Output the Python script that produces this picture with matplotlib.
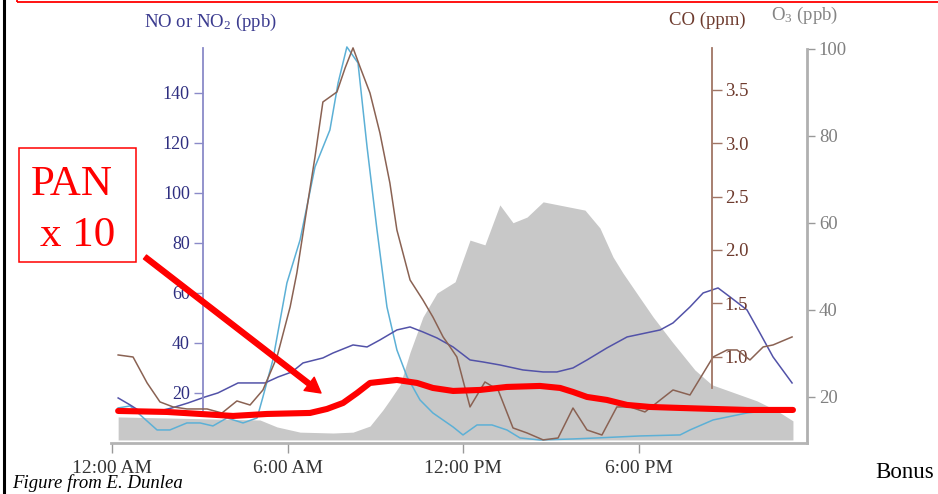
import matplotlib
matplotlib.use("Agg")
import matplotlib.pyplot as plt
from matplotlib.patches import Rectangle, FancyArrowPatch
from matplotlib.lines import Line2D

plt.rcParams['font.family'] = ['Liberation Serif', 'DejaVu Serif']
plt.rcParams['mathtext.fontset'] = 'custom'
plt.rcParams['mathtext.rm'] = 'Liberation Serif'
plt.rcParams['mathtext.it'] = 'Liberation Serif:italic'

# ---------------- data (hours after midnight) ----------------
no_hours = [0.21, 0.62, 1.54, 1.98, 2.56, 3.01, 3.45, 3.93, 4.48, 4.96, 5.16, 5.50,
            5.98, 6.43, 6.94, 7.45, 7.73, 8.03, 8.41, 8.72, 9.06, 9.40, 9.74, 10.09,
            10.53, 10.97, 11.66, 12.0, 12.48, 12.99, 13.50, 13.95, 14.63, 15.76,
            16.58, 18.05, 19.42, 19.76, 20.55, 21.71, 23.28]
no_ppb = [13.9, 14.7, 5.1, 5.1, 7.9, 7.9, 6.7, 9.9, 7.9, 9.9, 18.3, 33.1,
          63.9, 81.1, 110.3, 125.1, 143.9, 158.3, 151.9, 118.3, 85.1, 54.3, 37.1, 26.3,
          17.1, 11.9, 6.3, 3.1, 7.1, 7.1, 5.1, 1.9, 1.1, 1.5,
          1.9, 2.7, 3.1, 5.1, 9.1, 11.9, 13.9]

no2_hours = [0.21, 0.62, 0.89, 1.47, 2.05, 2.60, 3.18, 3.62, 4.31, 5.23, 5.68, 6.15,
             6.53, 7.21, 7.56, 8.24, 8.72, 9.16, 9.74, 10.19, 10.63, 11.11, 11.66,
             12.24, 12.68, 13.26, 14.05, 14.74, 15.21, 15.76, 16.24, 16.92, 17.61,
             18.74, 19.18, 19.76, 20.21, 20.72, 21.13, 21.71, 22.15, 22.60, 23.25]
no2_ppb = [17.9, 15.1, 13.1, 12.3, 13.9, 15.9, 18.3, 19.9, 23.9, 23.9, 26.3, 28.3,
           31.9, 33.9, 35.9, 39.1, 38.3, 41.1, 45.1, 46.3, 44.3, 41.9, 38.3,
           33.1, 32.3, 31.1, 29.1, 28.3, 28.3, 29.9, 33.1, 37.9, 42.3,
           45.1, 47.9, 54.3, 59.9, 61.9, 58.3, 53.1, 43.9, 34.3, 23.9]

co_hours = [0.21, 0.72, 1.20, 1.64, 2.09, 2.56, 3.25, 3.76, 4.27, 4.72, 5.16, 5.64,
            6.09, 6.32, 6.67, 6.94, 7.21, 7.69, 7.97, 8.24, 8.48, 8.82, 9.16, 9.50,
            9.74, 10.19, 10.63, 10.97, 11.32, 11.56, 11.79, 12.24, 12.75, 13.20,
            13.71, 14.19, 14.74, 15.25, 15.76, 16.24, 16.75, 17.26, 17.71, 18.22,
            19.18, 19.76, 20.55, 21.03, 21.37, 21.81, 22.26, 22.60, 23.25]
co_ppm = [1.015, 0.996, 0.753, 0.575, 0.528, 0.509, 0.509, 0.471, 0.584, 0.546, 0.687, 0.996,
          1.465, 1.784, 2.402, 2.871, 3.386, 3.480, 3.705, 3.893, 3.714, 3.470, 3.095, 2.627,
          2.186, 1.718, 1.530, 1.371, 1.184, 1.090, 0.996, 0.528, 0.762, 0.687,
          0.331, 0.284, 0.219, 0.237, 0.518, 0.312, 0.265, 0.528, 0.528, 0.481,
          0.687, 0.640, 0.996, 1.062, 1.062, 0.968, 1.090, 1.109, 1.184]

o3_hours = [0.21, 5.06, 5.64, 6.43, 7.56, 8.24, 8.82, 9.26, 9.50, 9.85, 10.19, 10.63,
            11.11, 11.73, 12.24, 12.75, 13.26, 13.71, 14.19, 14.74, 16.17, 16.68,
            17.13, 17.47, 18.05, 18.50, 19.15, 19.93, 20.51, 21.30, 22.05, 22.74, 23.28]
o3_ppb = [15.3, 14.6, 13.0, 11.8, 11.6, 11.8, 13.2, 16.9, 19.2, 22.7, 30.2, 38.3,
          43.8, 46.4, 56.0, 54.9, 64.1, 60.0, 61.3, 64.8, 62.9, 58.8,
          52.1, 48.4, 42.7, 38.3, 32.6, 26.1, 22.7, 20.8, 19.0, 16.7, 14.4]
o3_floor = 10.0

pan_hours = [0.21, 1.88, 3.01, 4.14, 5.30, 6.77, 7.35, 7.90, 8.38, 8.82, 9.74, 10.43,
             10.97, 11.66, 12.58, 13.50, 14.63, 15.32, 15.76, 16.24, 16.92, 17.61,
             18.39, 19.42, 20.55, 21.71, 23.28]
pan_x10_ppb = [12.7, 12.3, 11.5, 10.7, 11.5, 11.9, 13.5, 15.9, 19.9, 23.9, 25.1, 23.9,
               21.9, 20.7, 21.1, 22.3, 22.7, 21.9, 20.3, 18.3, 17.1, 15.1,
               14.3, 13.9, 13.5, 13.1, 13.1]

x_ticks = [0, 6, 12, 18]
x_ticklabels = ["12:00 AM", "6:00 AM", "12:00 PM", "6:00 PM"]
no_ticks = [20, 40, 60, 80, 100, 120, 140]
co_ticks = [1.0, 1.5, 2.0, 2.5, 3.0, 3.5]
o3_ticks = [20, 40, 60, 80, 100]

# ---------------- figure ----------------
W, H = 938, 494
fig = plt.figure(figsize=(W / 100, H / 100), dpi=100)
fig.patch.set_facecolor('white')

ax = fig.add_axes([111 / W, (H - 443) / H, 696 / W, 398 / H])
ax_co = ax.twinx()
ax_o3 = ax.twinx()
ax_pan = ax.twinx()

ax_o3.set_zorder(1)
ax.set_zorder(2)
ax_co.set_zorder(3)
ax_pan.set_zorder(4)
for a in (ax, ax_co, ax_o3, ax_pan):
    a.patch.set_visible(False)
    for s in a.spines.values():
        s.set_visible(False)

ax.set_xlim(-1 / 29.25, 695 / 29.25)
ax.set_ylim(-0.12, 159.08)
ax_pan.set_ylim(-0.12, 159.08)
ax_co.set_ylim(0.190, 3.920)
ax_o3.set_ylim(9.30, 100.9)

# O3 fill
ax_o3.fill_between(o3_hours, o3_floor, o3_ppb, color='#c8c8c8', lw=0)
# NO, NO2
ax.plot(no_hours, no_ppb, color='#5cb0d6', lw=1.1)
ax.plot(no2_hours, no2_ppb, color='#5252a8', lw=1.1)
# CO
ax_co.plot(co_hours, co_ppm, color='#8a6253', lw=1.1)
# PAN
ax_pan.plot(pan_hours, pan_x10_ppb, color='#ff0000', lw=4.4,
            solid_capstyle='round', solid_joinstyle='round')
ax_pan.set_yticks([])

# NO axis (left, inside)
ax.spines['left'].set_visible(True)
ax.spines['left'].set_position(('axes', 92 / 696))
ax.spines['left'].set_bounds(13, 158)
ax.spines['left'].set_color('#8a8ac8')
ax.spines['left'].set_linewidth(1.3)
ax.set_yticks(no_ticks)
ax.set_yticklabels([str(v) for v in no_ticks])
ax.tick_params(axis='y', direction='out', length=6.5, width=1, color='#8a8ac8',
               labelcolor='#2e2e80', labelsize=13, pad=3)

# x axis
ax.spines['bottom'].set_visible(True)
ax.spines['bottom'].set_color('#b4b4b4')
ax.spines['bottom'].set_linewidth(2)
ax.set_xticks(x_ticks)
ax.set_xticklabels(x_ticklabels)
ax.tick_params(axis='x', direction='out', length=7, width=1, color='#999999',
               labelcolor='#333333', labelsize=14, pad=5)

# CO axis
ax_co.spines['right'].set_visible(True)
ax_co.spines['right'].set_position(('axes', 600.7 / 696))
ax_co.spines['right'].set_bounds(0.71, 3.89)
ax_co.spines['right'].set_color('#a07565')
ax_co.spines['right'].set_linewidth(1.3)
ax_co.set_yticks(co_ticks)
ax_co.set_yticklabels([f"{v:.1f}" for v in co_ticks])
ax_co.tick_params(axis='y', direction='out', length=7, width=1, color='#a07565',
                  labelcolor='#6e3b2e', labelsize=13.5, pad=2.5)

# O3 axis
ax_o3.spines['right'].set_visible(True)
ax_o3.spines['right'].set_bounds(9.30, 100)
ax_o3.spines['right'].set_color('#b0b0b0')
ax_o3.spines['right'].set_linewidth(2)
ax_o3.set_yticks(o3_ticks)
ax_o3.set_yticklabels([str(v) for v in o3_ticks])
ax_o3.tick_params(axis='y', direction='out', length=6, width=1, color='#999999',
                  labelcolor='#808080', labelsize=13.5, pad=2.5)

# axis titles
fig.text(210 / W, 1 - 22 / H, 'NO or NO$_2$ (ppb)', ha='center', va='center',
         color='#3b3b8f', fontsize=13.5)
fig.text(707 / W, 1 - 20 / H, 'CO (ppm)', ha='center', va='center',
         color='#6e3b2e', fontsize=13.5)
fig.text(805 / W, 1 - 15 / H, 'O$_3$ (ppb)', ha='center', va='center',
         color='#858585', fontsize=13.5)

# slide decorations
fig.add_artist(Line2D([4 / W, 4 / W], [0, 1], transform=fig.transFigure,
                      color='black', lw=2.2))
fig.add_artist(Rectangle((17 / W, 1 - 2.5 / H), 940 / W, 20 / H, transform=fig.transFigure,
                         fill=False, ec='red', lw=1.3, clip_on=False))

fig.add_artist(Rectangle((19 / W, 1 - 262 / H), 117 / W, 114 / H, transform=fig.transFigure,
                         facecolor='white', ec='red', lw=1.1))
fig.text(72 / W, 1 - 195 / H, 'PAN', ha='center', va='baseline', color='red', fontsize=31)
fig.text(78 / W, 1 - 246 / H, 'x 10', ha='center', va='baseline', color='red', fontsize=31)

fig.add_artist(FancyArrowPatch((145 / W, 1 - 257 / H), (321 / W, 1 - 393 / H),
                               transform=fig.transFigure,
                               arrowstyle='simple,head_length=0.9,head_width=1.0,tail_width=0.3',
                               mutation_scale=12, color='red', shrinkA=0, shrinkB=0, zorder=10))

fig.text(12 / W, 1 - 488 / H, 'Figure from E. Dunlea', ha='left', va='baseline',
         fontstyle='italic', color='black', fontsize=13.5, zorder=10)
fig.text(875 / W, 1 - 478 / H, 'Bonus', ha='left', va='baseline', color='black', fontsize=16.5)

fig.savefig('out.png', dpi=100)
